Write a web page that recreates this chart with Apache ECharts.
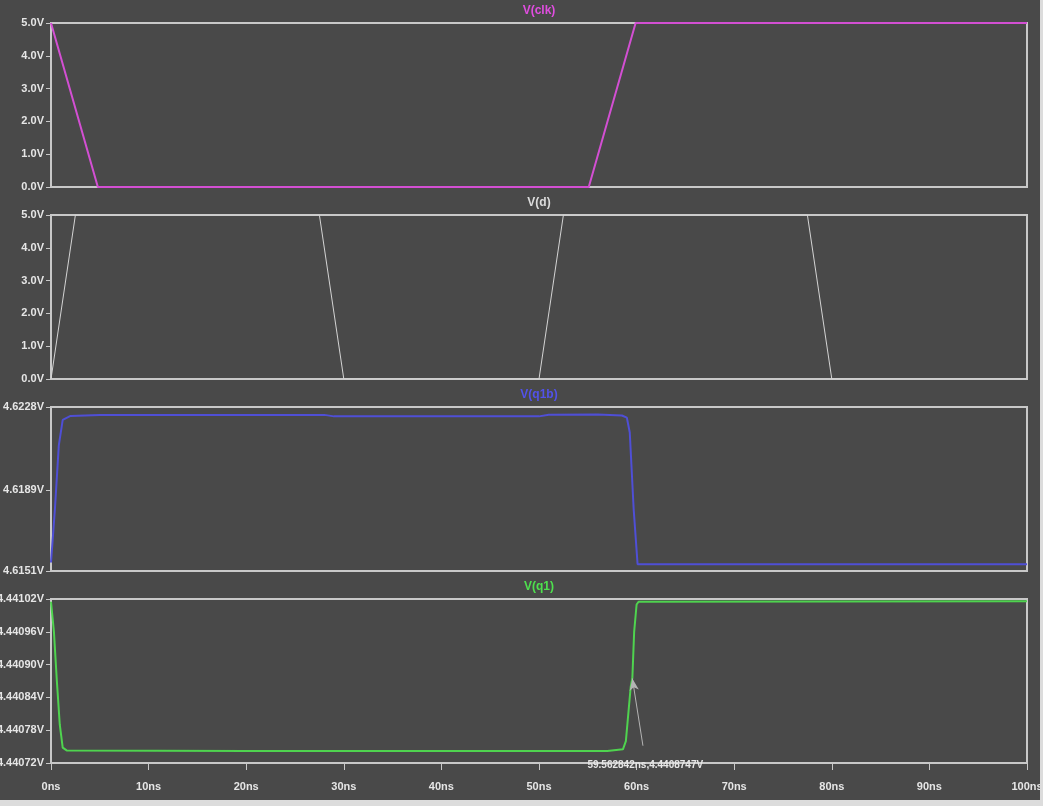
<!DOCTYPE html>
<html>
<head>
<meta charset="utf-8">
<script src="https://cdn.jsdelivr.net/npm/echarts@6/dist/echarts.min.js"></script>
<style>
html,body{margin:0;padding:0;background:#dcdcdc;}
#c{position:absolute;left:0;top:0;width:1040px;height:800px;background:#494949;}
</style>
</head>
<body>
<div id="c"></div>
<script>
// ---- data (time in ns, value in V) ----
var xTicks = [0,10,20,30,40,50,60,70,80,90,100];
var titles = ['V(clk)','V(d)','V(q1b)','V(q1)'];
var clkData = [[0,5],[4.8,0],[55.1,0],[59.9,5],[100,5]];
var dData = [[0,0],[2.5,5],[27.5,5],[30,0],[50,0],[52.5,5],[77.5,5],[80,0],[100,0]];
var q1bData = [[0,4.6155],[0.4,4.6180],[0.8,4.6210],[1.2,4.6222],[2,4.62238],[5,4.62242],[28,4.62243],[29,4.62236],[50,4.62236],[51,4.62244],[56,4.62245],[58.5,4.62240],[59,4.6223],[59.3,4.6216],[59.7,4.6180],[60.1,4.61542],[100,4.61542]];
var q1Data = [[0,4.441015],[0.3,4.44096],[0.6,4.44087],[0.9,4.44079],[1.2,4.440748],[1.6,4.440743],[20,4.440742],[57,4.440742],[58.6,4.440745],[58.9,4.44076],[59.1,4.44080],[59.4,4.44086],[59.562842,4.4408747],[59.75,4.44096],[60.0,4.44101],[60.2,4.441015],[100,4.441016]];
var q1bTicks = [4.6151,4.6189,4.6228];
var q1Ticks = [4.44072,4.44078,4.44084,4.44090,4.44096,4.44102];
var annotT = 59.562842, annotV = 4.4408747;
var annotTailT = 60.65, annotTailV = 4.4407516;

var colors = ['#d34fd3','#d4d4d4','#4f4fd6','#4fd34f'];
var titleColors = ['#e04ee0','#dcdcdc','#5252ea','#4ee04e'];
var tops = [23,215,407,599];
var H = 164;
var font = '"Liberation Sans",Arial,sans-serif';
var fw = 'bold';
var fs = 11;
var axisColor = '#c8c8c8';
var labelColor = '#e6e6e6';

var grids = [], xAxes = [], yAxes = [], series = [], titleArr = [];
for (var i=0;i<4;i++){
  grids.push({left:51,width:976,top:tops[i],height:H,show:true,borderColor:axisColor,borderWidth:2,
    backgroundColor:'transparent',containLabel:false,outerBoundsMode:'none'});
  var last = (i===3);
  xAxes.push({type:'value',gridIndex:i,min:0,max:100,interval:10,
    axisLine:{show:true,onZero:false,lineStyle:{color:axisColor,width:2}},
    axisTick:{show:last,length:7,lineStyle:{color:axisColor,width:1}},
    axisLabel:{show:last,margin:18,color:labelColor,fontFamily:font,fontWeight:fw,fontSize:fs,
      formatter:function(v){return v+'ns';}},
    splitLine:{show:false}});
  titleArr.push({text:titles[i],left:539,top:tops[i]-18,textAlign:'center',padding:0,
    textStyle:{color:titleColors[i],fontFamily:font,fontWeight:fw,fontSize:12}});
}
function mkY(i,min,max,labFmt,custom){
  var y = {type:'value',gridIndex:i,min:min,max:max,
    axisLine:{show:true,onZero:false,lineStyle:{color:axisColor,width:2}},
    axisTick:{show:true,length:5,lineStyle:{color:axisColor,width:1}},
    axisLabel:{color:labelColor,fontFamily:font,fontWeight:fw,fontSize:fs,margin:7,formatter:labFmt},
    splitLine:{show:false}};
  if (custom){ y.axisTick.customValues = custom; y.axisLabel.customValues = custom; }
  else { y.interval = 1; }
  return y;
}
var f1 = function(v){return v.toFixed(1)+'V';};
yAxes = [
  mkY(0,0,5,f1,null),
  mkY(1,0,5,f1,null),
  mkY(2,q1bTicks[0],q1bTicks[q1bTicks.length-1],function(v){return v.toFixed(4)+'V';},q1bTicks),
  mkY(3,q1Ticks[0],q1Ticks[q1Ticks.length-1],function(v){return v.toFixed(5)+'V';},q1Ticks)
];

var datas=[clkData,dData,q1bData,q1Data];
var widths=[2,1,2,2];
for (var j=0;j<4;j++){
  var s={type:'line',xAxisIndex:j,yAxisIndex:j,data:datas[j],showSymbol:false,symbol:'none',
    lineStyle:{color:colors[j],width:widths[j]},itemStyle:{color:colors[j]},animation:false,z:3};
  if (j===3){
    s.markLine={silent:true,animation:false,symbol:['arrow','none'],symbolSize:[7,12],
      lineStyle:{color:'#b4b4b4',width:1,type:'solid'},
      label:{show:true,position:'end',distance:15,formatter:annotT+'ns,'+annotV+'V',
        color:'#e6e6e6',fontFamily:font,fontWeight:fw,fontSize:10},
      data:[[{coord:[annotT,annotV]},{coord:[annotTailT,annotTailV]}]]};
  }
  series.push(s);
}

var chart = echarts.init(document.getElementById('c'),null,{renderer:'canvas'});
chart.setOption({backgroundColor:'#494949',animation:false,title:titleArr,grid:grids,xAxis:xAxes,yAxis:yAxes,series:series});
</script>
</body>
</html>
